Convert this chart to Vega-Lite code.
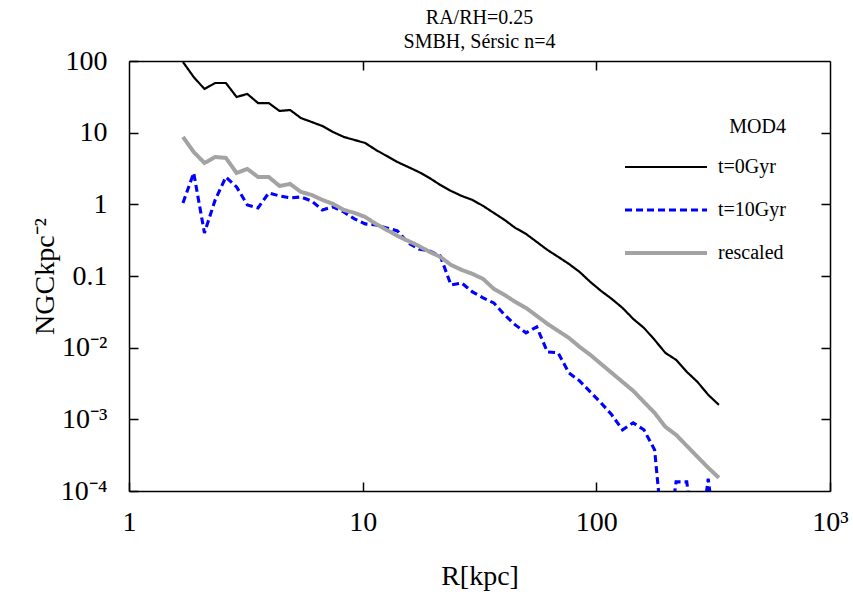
{
  "$schema": "https://vega.github.io/schema/vega-lite/v6.json",
  "width": 701,
  "height": 430,
  "autosize": "none",
  "padding": {"left": 129, "top": 61, "right": 23, "bottom": 103},
  "background": "white",
  "title": {
    "text": ["RA/RH=0.25", "SMBH, Sérsic n=4"],
    "font": "Liberation Serif",
    "fontSize": 20,
    "fontWeight": "normal",
    "color": "black",
    "anchor": "middle",
    "offset": -5,
    "lineHeight": 24
  },
  "config": {
    "view": {"stroke": null},
    "font": "Liberation Serif",
    "axis": {
      "grid": false,
      "domainColor": "black",
      "domainWidth": 1.5,
      "tickColor": "black",
      "tickWidth": 1.5,
      "tickSize": -9,
      "labelFont": "Liberation Serif",
      "labelFontSize": 28,
      "labelColor": "black",
      "titleFont": "Liberation Serif",
      "titleFontSize": 28,
      "titleFontWeight": "normal",
      "titleColor": "black"
    },
    "legend": {
      "orient": "none",
      "legendX": 494,
      "legendY": 56,
      "padding": 0,
      "symbolType": "stroke",
      "symbolSize": 6724,
      "clipHeight": 20,
      "rowPadding": 23,
      "labelFont": "Liberation Serif",
      "labelFontSize": 20,
      "labelColor": "black",
      "labelOffset": 9,
      "titleFont": "Liberation Serif",
      "titleFontSize": 20,
      "titleFontWeight": "normal",
      "titleColor": "black",
      "titleAnchor": "end",
      "titlePadding": 20
    }
  },
  "data": {
    "values": [
      {"R": 1.702, "t=0Gyr": 96.8, "t=10Gyr": 1.046, "rescaled": 8.71},
      {"R": 1.892, "t=0Gyr": 59.8, "t=10Gyr": 2.74, "rescaled": 5.38},
      {"R": 2.103, "t=0Gyr": 40.7, "t=10Gyr": 0.399, "rescaled": 3.78},
      {"R": 2.338, "t=0Gyr": 49.3, "t=10Gyr": 1.152, "rescaled": 4.58},
      {"R": 2.598, "t=0Gyr": 49.3, "t=10Gyr": 2.41, "rescaled": 4.44},
      {"R": 2.887, "t=0Gyr": 31.5, "t=10Gyr": 1.748, "rescaled": 2.74},
      {"R": 3.209, "t=0Gyr": 34.7, "t=10Gyr": 0.981, "rescaled": 3.12},
      {"R": 3.566, "t=0Gyr": 25.9, "t=10Gyr": 0.891, "rescaled": 2.41},
      {"R": 3.964, "t=0Gyr": 25.9, "t=10Gyr": 1.442, "rescaled": 2.41},
      {"R": 4.405, "t=0Gyr": 20.1, "t=10Gyr": 1.31, "rescaled": 1.805},
      {"R": 4.896, "t=0Gyr": 20.7, "t=10Gyr": 1.228, "rescaled": 1.925},
      {"R": 5.441, "t=0Gyr": 16.0, "t=10Gyr": 1.268, "rescaled": 1.489},
      {"R": 6.048, "t=0Gyr": 14.1, "t=10Gyr": 1.115, "rescaled": 1.352},
      {"R": 6.721, "t=0Gyr": 12.4, "t=10Gyr": 0.835, "rescaled": 1.152},
      {"R": 7.470, "t=0Gyr": 10.2, "t=10Gyr": 0.920, "rescaled": 1.013},
      {"R": 8.302, "t=0Gyr": 8.71, "t=10Gyr": 0.783, "rescaled": 0.835},
      {"R": 9.226, "t=0Gyr": 7.91, "t=10Gyr": 0.626, "rescaled": 0.759},
      {"R": 10.25, "t=0Gyr": 7.18, "t=10Gyr": 0.533, "rescaled": 0.667},
      {"R": 11.40, "t=0Gyr": 5.74, "t=10Gyr": 0.516, "rescaled": 0.533},
      {"R": 12.67, "t=0Gyr": 4.73, "t=10Gyr": 0.469, "rescaled": 0.440},
      {"R": 14.08, "t=0Gyr": 3.90, "t=10Gyr": 0.426, "rescaled": 0.3625},
      {"R": 15.65, "t=0Gyr": 3.32, "t=10Gyr": 0.2894, "rescaled": 0.309},
      {"R": 17.39, "t=0Gyr": 2.83, "t=10Gyr": 0.2388, "rescaled": 0.263},
      {"R": 19.33, "t=0Gyr": 2.33, "t=10Gyr": 0.224, "rescaled": 0.217},
      {"R": 21.48, "t=0Gyr": 1.865, "t=10Gyr": 0.1907, "rescaled": 0.185},
      {"R": 23.87, "t=0Gyr": 1.538, "t=10Gyr": 0.0751, "rescaled": 0.1428},
      {"R": 26.53, "t=0Gyr": 1.31, "t=10Gyr": 0.0801, "rescaled": 0.1216},
      {"R": 29.49, "t=0Gyr": 1.152, "t=10Gyr": 0.060, "rescaled": 0.107},
      {"R": 32.77, "t=0Gyr": 0.950, "t=10Gyr": 0.0495, "rescaled": 0.0911},
      {"R": 36.42, "t=0Gyr": 0.759, "t=10Gyr": 0.0421, "rescaled": 0.0661},
      {"R": 40.48, "t=0Gyr": 0.606, "t=10Gyr": 0.0287, "rescaled": 0.0545},
      {"R": 44.99, "t=0Gyr": 0.469, "t=10Gyr": 0.0208, "rescaled": 0.0435},
      {"R": 50.00, "t=0Gyr": 0.387, "t=10Gyr": 0.0161, "rescaled": 0.0359},
      {"R": 55.57, "t=0Gyr": 0.299, "t=10Gyr": 0.0195, "rescaled": 0.0278},
      {"R": 61.76, "t=0Gyr": 0.231, "t=10Gyr": 0.00874, "rescaled": 0.0215},
      {"R": 68.64, "t=0Gyr": 0.185, "t=10Gyr": 0.00846, "rescaled": 0.01715},
      {"R": 76.29, "t=0Gyr": 0.1475, "t=10Gyr": 0.00445, "rescaled": 0.0137},
      {"R": 84.78, "t=0Gyr": 0.114, "t=10Gyr": 0.00344, "rescaled": 0.01026},
      {"R": 94.23, "t=0Gyr": 0.0827, "t=10Gyr": 0.00242, "rescaled": 0.00794},
      {"R": 104.7, "t=0Gyr": 0.0620, "t=10Gyr": 0.0017, "rescaled": 0.00594},
      {"R": 116.4, "t=0Gyr": 0.0479, "t=10Gyr": 0.001156, "rescaled": 0.00445},
      {"R": 129.4, "t=0Gyr": 0.0359, "t=10Gyr": 0.000714, "rescaled": 0.00333},
      {"R": 143.8, "t=0Gyr": 0.0252, "t=10Gyr": 0.000894, "rescaled": 0.0025},
      {"R": 159.8, "t=0Gyr": 0.0189, "t=10Gyr": 0.000714, "rescaled": 0.00175},
      {"R": 177.6, "t=0Gyr": 0.01285, "t=10Gyr": 0.000375, "rescaled": 0.00123},
      {"R": 197.4, "t=0Gyr": 0.00846, "t=10Gyr": 0.00001, "rescaled": 0.000786},
      {"R": 219.4, "t=0Gyr": 0.00676, "t=10Gyr": 0.000134, "rescaled": 0.000608},
      {"R": 243.8, "t=0Gyr": 0.00460, "t=10Gyr": 0.000134, "rescaled": 0.000427},
      {"R": 270.9, "t=0Gyr": 0.00333, "t=10Gyr": 0.00001, "rescaled": 0.0003},
      {"R": 301.1, "t=0Gyr": 0.00220, "t=10Gyr": 0.000148, "rescaled": 0.000211},
      {"R": 334.6, "t=0Gyr": 0.00159, "t=10Gyr": 0.00001, "rescaled": 0.000153}
    ]
  },
  "transform": [
    {"fold": ["t=0Gyr", "t=10Gyr", "rescaled"], "as": ["series", "N"]}
  ],
  "layer": [
    {
      "mark": {"type": "line", "clip": true},
      "encoding": {
        "x": {
          "field": "R",
          "type": "quantitative",
          "scale": {"type": "log", "domain": [1, 1000], "nice": false},
          "axis": {
            "orient": "bottom",
            "values": [1, 10, 100, 1000],
            "labelExpr": "datum.value >= 1000 ? '10³' : format(datum.value, 'd')",
            "labelPadding": 48,
            "labelBaseline": "alphabetic",
            "labelFlush": false,
            "title": "R[kpc]",
            "titleY": 93,
            "titleBaseline": "alphabetic"
          }
        },
        "y": {
          "field": "N",
          "type": "quantitative",
          "scale": {"type": "log", "domain": [0.0001, 100], "nice": false},
          "axis": {
            "orient": "left",
            "values": [0.0001, 0.001, 0.01, 0.1, 1, 10, 100],
            "labelExpr": "datum.value >= 0.05 ? format(datum.value, '~g') : datum.value > 0.005 ? '10⁻²' : datum.value > 0.0005 ? '10⁻³' : '10⁻⁴'",
            "labelPadding": 31,
            "labelBaseline": "middle",
            "labelFlush": false,
            "title": "NGCkpc⁻²",
            "titleX": -84,
            "titleY": 215,
            "titleAngle": -90,
            "titleAlign": "center",
            "titleBaseline": "middle"
          }
        },
        "color": {
          "field": "series",
          "type": "nominal",
          "title": "MOD4",
          "scale": {"domain": ["t=0Gyr", "t=10Gyr", "rescaled"], "range": ["#000000", "#0000ff", "#a3a3a3"]}
        },
        "strokeDash": {
          "field": "series",
          "type": "nominal",
          "title": "MOD4",
          "scale": {"domain": ["t=0Gyr", "t=10Gyr", "rescaled"], "range": [[1, 0], [7, 4], [1, 0]]}
        },
        "strokeWidth": {
          "field": "series",
          "type": "nominal",
          "title": "MOD4",
          "scale": {"domain": ["t=0Gyr", "t=10Gyr", "rescaled"], "range": [2.2, 4, 4]}
        }
      }
    },
    {
      "mark": {"type": "line", "opacity": 0, "clip": true},
      "encoding": {
        "x": {
          "field": "R",
          "type": "quantitative",
          "axis": {"orient": "top", "values": [10, 100], "labels": false, "title": null}
        },
        "y": {
          "field": "N",
          "type": "quantitative",
          "axis": {"orient": "right", "values": [0.001, 0.01, 0.1, 1, 10], "labels": false, "title": null}
        },
        "detail": {"field": "series", "type": "nominal"}
      }
    }
  ],
  "resolve": {"axis": {"x": "independent", "y": "independent"}}
}
